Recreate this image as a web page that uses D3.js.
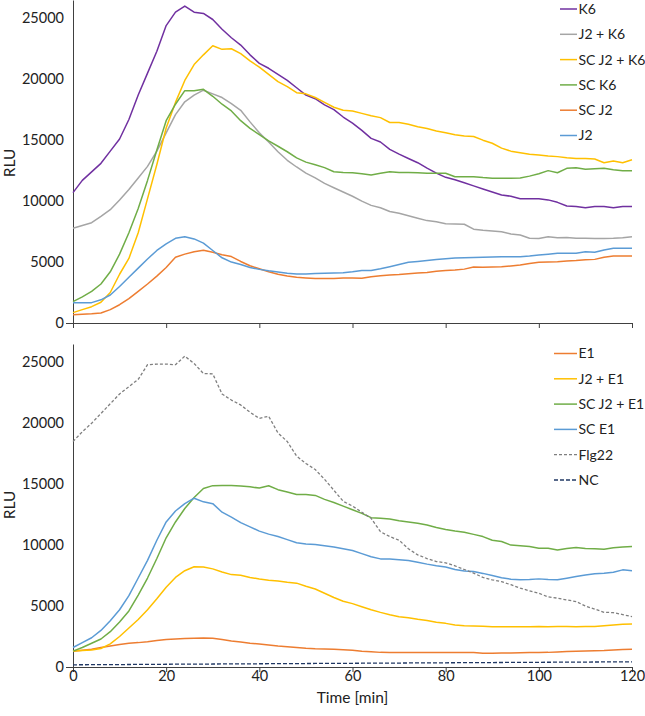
<!DOCTYPE html>
<html><head><meta charset="utf-8">
<script src="https://cdn.jsdelivr.net/npm/d3@7"></script>
<style>body{margin:0;background:#fff}svg{display:block;font-family:Lato,"Open Sans",sans-serif}</style>
</head><body><svg id="c" width="645" height="716"></svg>
<script>
// Time points [min]
const time = [0,2,4,6,8,10,12,14,16,18,20,22,24,26,28,30,32,34,36,38,40,42,44,46,48,50,52,54,56,58,60,62,64,66,68,70,72,74,76,78,80,82,84,86,88,90,92,94,96,98,100,102,104,106,108,110,112,114,116,118,120];
const xTicks = [0,20,40,60,80,100,120];
const yTicks = [0,5000,10000,15000,20000,25000];

// Top panel series (RLU)
const K6 = [10700,11700,12400,13100,14100,15100,16700,18700,20500,22300,24400,25500,26000,25500,25400,24900,24100,23400,22800,22000,21300,20900,20400,19900,19300,18700,18400,17900,17500,16900,16400,15800,15150,14850,14250,13850,13500,13150,12700,12300,11950,11750,11500,11250,11000,10750,10500,10400,10200,10200,10200,10100,9900,9600,9550,9450,9550,9550,9450,9550,9550];
const J2_K6 = [7770,8000,8230,8750,9300,10100,10950,11900,12850,14100,15600,17100,18150,18700,19100,18800,18500,18000,17450,16500,15600,14850,14050,13350,12800,12300,11900,11450,11100,10750,10400,10000,9650,9450,9150,9000,8800,8600,8400,8300,8150,8120,8100,7700,7600,7550,7480,7300,7220,6950,6930,7080,7000,7020,6950,6950,6930,6930,6950,7000,7080];
const SC_J2_K6 = [850,1100,1340,1700,2500,4000,5300,7400,10200,13000,16000,18100,19900,21200,22000,22750,22450,22500,22100,21500,21000,20400,19800,19400,18900,18800,18500,18100,17700,17450,17400,17200,17000,16850,16450,16450,16300,16100,15950,15750,15600,15450,15350,15300,15000,14750,14350,14100,13970,13850,13780,13700,13650,13550,13500,13500,13450,13150,13300,13150,13400];
const SC_K6 = [1750,2150,2600,3200,4200,5650,7400,9400,11700,14200,16600,17950,19060,19060,19170,18600,17950,17400,16600,15970,15450,14950,14500,14050,13550,13200,12980,12750,12410,12350,12320,12250,12140,12280,12410,12350,12350,12330,12280,12280,12280,12000,12000,12000,11930,11880,11870,11880,11900,12050,12250,12500,12330,12690,12740,12620,12650,12690,12580,12500,12500];
const SC_J2 = [680,720,760,820,1100,1500,2000,2600,3200,3850,4550,5400,5650,5850,5970,5800,5600,5450,5050,4700,4450,4200,4000,3850,3750,3700,3650,3650,3650,3700,3700,3670,3800,3880,3940,3980,4040,4100,4150,4250,4300,4350,4420,4600,4580,4600,4620,4680,4750,4880,4980,5000,5030,5080,5120,5180,5220,5400,5500,5500,5500];
const J2 = [1670,1670,1670,1900,2300,3000,3750,4500,5250,5950,6500,6950,7080,6900,6550,5950,5350,5000,4800,4550,4400,4280,4180,4080,4030,4020,4070,4080,4100,4120,4200,4300,4300,4450,4620,4800,4980,5050,5120,5200,5280,5330,5360,5380,5400,5420,5440,5440,5440,5500,5580,5650,5720,5720,5720,5850,5800,5990,6130,6130,6130];

// Bottom panel series (RLU)
const E1 = [1300,1380,1450,1600,1730,1850,1950,2000,2080,2180,2250,2300,2330,2360,2380,2350,2250,2140,2050,1950,1880,1800,1720,1670,1600,1540,1500,1480,1460,1420,1380,1300,1250,1200,1180,1180,1180,1180,1180,1180,1180,1180,1180,1180,1130,1120,1140,1150,1160,1180,1180,1200,1240,1270,1300,1320,1340,1360,1400,1430,1450];
const J2_E1 = [1320,1360,1400,1520,1900,2500,3200,3900,4700,5600,6550,7350,7900,8220,8200,8050,7800,7580,7530,7350,7220,7120,7050,6950,6880,6620,6400,6050,5700,5400,5200,4950,4700,4480,4280,4120,4050,3920,3820,3680,3580,3450,3380,3360,3340,3310,3300,3300,3300,3300,3320,3310,3320,3320,3300,3330,3320,3380,3450,3500,3530];
const SC_J2_E1 = [1300,1600,1950,2300,2900,3700,4600,5900,7300,8900,10600,11900,13000,13900,14650,14880,14900,14900,14850,14780,14680,14870,14550,14350,14150,14150,14080,13750,13500,13200,12900,12600,12250,12200,12150,12000,11900,11800,11650,11450,11280,11150,11050,10880,10700,10400,10300,10000,9950,9880,9750,9750,9600,9720,9800,9720,9700,9670,9780,9850,9880];
const SC_E1 = [1600,2000,2400,3000,3800,4700,5850,7300,8750,10400,11900,12800,13400,13850,13550,13400,12700,12300,11850,11500,11150,10900,10700,10450,10200,10100,10050,9950,9850,9700,9560,9300,9050,8870,8870,8800,8730,8600,8440,8300,8200,8000,7880,7830,7680,7500,7330,7200,7150,7180,7230,7180,7150,7280,7420,7550,7650,7700,7780,7970,7900];
const Flg22 = [18500,19300,20000,20800,21600,22400,23000,23600,24800,24850,24850,24800,25500,24900,24080,24050,22400,21900,21500,20900,20400,20570,19200,18500,17300,16700,16200,15400,14500,13600,13200,12700,12200,11100,10700,10400,9700,9200,8900,8650,8550,8300,8000,7700,7350,7150,7000,6750,6470,6250,6050,5750,5650,5500,5370,5000,4750,4490,4460,4300,4130];
const NC = [180,185,190,195,200,200,205,210,215,220,225,230,235,240,240,245,250,250,255,260,265,270,275,280,280,285,290,295,300,300,305,310,315,320,320,325,330,335,340,340,345,350,355,360,360,365,370,375,380,380,385,390,395,400,400,405,410,415,420,420,425];

const topSeries = [
  {name:"K6", values:K6, color:"#7030A0", dash:null},
  {name:"J2 + K6", values:J2_K6, color:"#A5A5A5", dash:null},
  {name:"SC J2 + K6", values:SC_J2_K6, color:"#FFC000", dash:null},
  {name:"SC K6", values:SC_K6, color:"#70AD47", dash:null},
  {name:"SC J2", values:SC_J2, color:"#ED7D31", dash:null},
  {name:"J2", values:J2, color:"#5B9BD5", dash:null}
];
const bottomSeries = [
  {name:"E1", values:E1, color:"#ED7D31", dash:null},
  {name:"J2 + E1", values:J2_E1, color:"#FFC000", dash:null},
  {name:"SC J2 + E1", values:SC_J2_E1, color:"#70AD47", dash:null},
  {name:"SC E1", values:SC_E1, color:"#5B9BD5", dash:null},
  {name:"Flg22", values:Flg22, color:"#7F7F7F", dash:"3,2"},
  {name:"NC", values:NC, color:"#203864", dash:"4,2"}
];

const svg = d3.select("#c");
const x = d3.scaleLinear().domain([0,120]).range([73,632]);
const axisColor = "#404040";
const fs = "14.5px";
const legFs = "14px";
const titleFs = "15.5px";

function panel(series, top, bottom, showXLabels, legX1, legX2, legY0, labelY) {
  const y = d3.scaleLinear().domain([0,26500]).range([bottom, top]);
  const g = svg.append("g");

  // y axis
  const ya = g.append("g").attr("transform", `translate(${x(0)},0)`)
    .call(d3.axisLeft(y).tickValues(yTicks).tickSize(0).tickPadding(9).tickFormat(d3.format("d")));
  ya.select(".domain").attr("stroke", axisColor);
  ya.selectAll(".tick line").attr("x2", d => d === 0 ? -7 : 0).attr("stroke", axisColor);
  ya.selectAll("text").attr("font-size", fs).attr("fill", "#222").style("font-family", "Lato");

  // x axis
  const xa = g.append("g").attr("transform", `translate(0,${bottom})`)
    .call(d3.axisBottom(x).tickValues(xTicks).tickSizeInner(5).tickSizeOuter(0).tickPadding(-1)
      .tickFormat(showXLabels ? d3.format("d") : () => ""));
  xa.select(".domain").attr("stroke", axisColor);
  xa.selectAll(".tick line").attr("stroke", axisColor);
  xa.selectAll("text").attr("font-size", fs).attr("fill", "#222").style("font-family", "Lato");

  // lines
  const line = d3.line().x((d,i) => x(time[i])).y(d => y(d));
  series.forEach(s => {
    g.append("path").datum(s.values)
      .attr("d", line).attr("fill", "none")
      .attr("stroke", s.color).attr("stroke-width", s.dash ? 1.3 : 1.5)
      .attr("stroke-dasharray", s.dash)
      .attr("stroke-linejoin", "round");
  });

  // legend
  series.forEach((s, i) => {
    const ly = legY0 + i * 25.3;
    g.append("line").attr("x1", legX1).attr("x2", legX2).attr("y1", ly).attr("y2", ly)
      .attr("stroke", s.color).attr("stroke-width", s.dash ? 1.3 : 1.5)
      .attr("stroke-dasharray", s.dash);
    g.append("text").attr("x", legX2 + 1.5).attr("y", ly).attr("dy", "0.35em")
      .attr("font-size", legFs).attr("fill", "#222").text(s.name);
  });

  // y label
  g.append("text").attr("transform", `translate(15,${labelY}) rotate(-90)`)
    .attr("text-anchor", "middle").attr("font-size", titleFs).attr("fill", "#222").text("RLU");
}

panel(topSeries, 0, 323, false, 560, 577, 9, 163);
panel(bottomSeries, 344, 667, true, 554, 577, 353.5, 505);

svg.append("text").attr("x", (x(0)+x(120))/2).attr("y", 703)
  .attr("text-anchor", "middle").attr("font-size", titleFs).attr("fill", "#222").text("Time [min]");
</script></body></html>
